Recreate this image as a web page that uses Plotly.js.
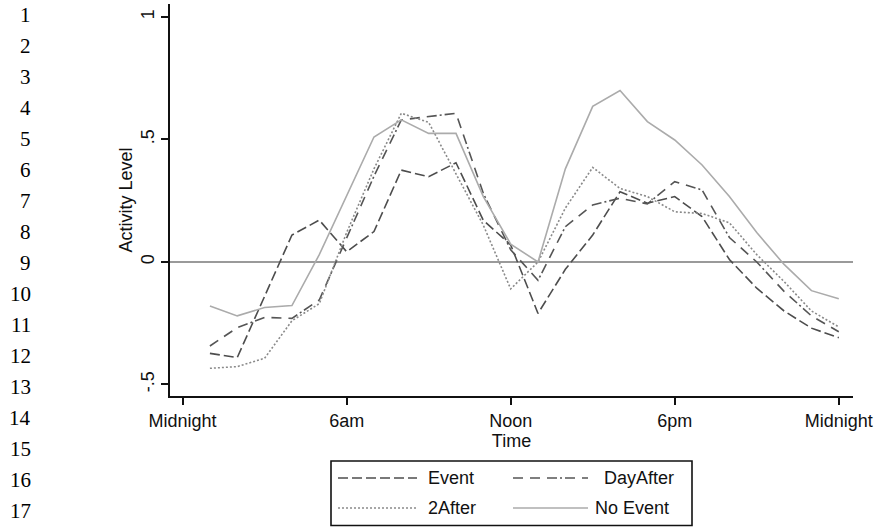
<!DOCTYPE html>
<html>
<head>
<meta charset="utf-8">
<script src="https://cdn.plot.ly/plotly-3.0.1.min.js"></script>
<style>
  html, body { margin: 0; padding: 0; background: #fff; }
  #chart { width: 881px; height: 527px; }
</style>
</head>
<body>
<div id="chart"></div>
<script>
// ---- data ----
var hours = [1, 2, 3, 4, 5, 6, 7, 8, 9, 10, 11, 12, 13, 14, 15, 16, 17, 18, 19, 20, 21, 22, 23, 24];
var eventVals    = [-0.373, -0.39, -0.14, 0.11, 0.171, 0.042, 0.124, 0.375, 0.348, 0.405, 0.17, 0.07, -0.21, -0.03, 0.11, 0.287, 0.24, 0.267, 0.185, 0.01, -0.107, -0.2, -0.27, -0.309];
var dayAfterVals = [-0.343, -0.268, -0.226, -0.23, -0.155, 0.1, 0.35, 0.58, 0.593, 0.607, 0.28, 0.05, -0.075, 0.144, 0.233, 0.26, 0.237, 0.328, 0.294, 0.1, 0.0, -0.12, -0.22, -0.285];
var twoAfterVals = [-0.434, -0.427, -0.393, -0.24, -0.17, 0.12, 0.38, 0.607, 0.57, 0.36, 0.15, -0.11, 0.0, 0.22, 0.386, 0.30, 0.267, 0.205, 0.198, 0.16, 0.03, -0.08, -0.2, -0.265];
var noEventVals  = [-0.18, -0.22, -0.186, -0.178, 0.03, 0.27, 0.51, 0.58, 0.525, 0.525, 0.267, 0.073, 0.0, 0.38, 0.635, 0.70, 0.573, 0.498, 0.396, 0.267, 0.12, -0.01, -0.117, -0.15];
var seriesNames  = ["Event", "DayAfter", "2After", "No Event"];
var xTickVals = [0, 6, 12, 18, 24];
var xTickText = ["Midnight", "6am", "Noon", "6pm", "Midnight"];
var yTickVals = [-0.5, 0, 0.5, 1];
var yTickText = ["-.5", "0", ".5", "1"];
var lineNumbers = [1, 2, 3, 4, 5, 6, 7, 8, 9, 10, 11, 12, 13, 14, 15, 16, 17];

// ---- styles ----
var FONT = "Liberation Sans, Arial, Helvetica, sans-serif";
var styles = [
  {color: "#4d4d4d", dash: "10px,4px", width: 1.6},
  {color: "#555555", dash: "10px,7px,10px,7px,10px,3px,2px,3px", width: 1.6},
  {color: "#8a8a8a", dash: "2px,2px", width: 1.6},
  {color: "#ababab", dash: "solid", width: 1.6}
];
var allVals = [eventVals, dayAfterVals, twoAfterVals, noEventVals];

var W = 881, H = 527;
var M = {l: 170, r: 28, t: 4, b: 131};
var pw = W - M.l - M.r, ph = H - M.t - M.b;
function px2x(px) { return (px - M.l) / pw; }
function py2y(py) { return (H - M.b - py) / ph; }

var traces = allVals.map(function (vals, i) {
  return {
    x: hours, y: vals, type: "scatter", mode: "lines",
    name: seriesNames[i],
    line: {color: styles[i].color, dash: styles[i].dash, width: styles[i].width},
    hoverinfo: "skip", showlegend: false
  };
});

// manual legend (2 x 2 box below the plot)
var shapes = [];
var annotations = [];
shapes.push({type: "rect", xref: "paper", yref: "paper",
  x0: px2x(331), x1: px2x(692), y0: py2y(525.5), y1: py2y(461),
  line: {color: "#111", width: 1.6}, fillcolor: "rgba(0,0,0,0)"});
var legPos = [
  {lx0: 338, lx1: 417, tx: 426, ty: 478},
  {lx0: 513, lx1: 588, tx: 602, ty: 478},
  {lx0: 338, lx1: 417, tx: 426, ty: 508},
  {lx0: 513, lx1: 588, tx: 593, ty: 508}
];
var legOrder = [0, 1, 2, 3];
legOrder.forEach(function (si, k) {
  var p = legPos[k];
  shapes.push({type: "line", xref: "paper", yref: "paper",
    x0: px2x(p.lx0), x1: px2x(p.lx1), y0: py2y(p.ty), y1: py2y(p.ty),
    line: {color: styles[si].color, dash: styles[si].dash, width: styles[si].width}});
  annotations.push({xref: "paper", yref: "paper", x: px2x(p.tx), y: py2y(p.ty),
    xanchor: "left", yanchor: "middle", showarrow: false, text: seriesNames[si],
    font: {family: FONT, size: 18, color: "#111"}});
});

// line numbers in the left margin
lineNumbers.forEach(function (n, i) {
  var cy = 15 + 31.0 * i;
  annotations.push({xref: "paper", yref: "paper", x: px2x(33), y: py2y(cy),
    xanchor: "right", yanchor: "middle", showarrow: false, text: String(n),
    font: {family: "Liberation Serif, Times New Roman, serif", size: 21, color: "#000"}});
});

var layout = {
  width: W, height: H,
  margin: M,
  paper_bgcolor: "#fff", plot_bgcolor: "#fff",
  font: {family: FONT, size: 18, color: "#111"},
  showlegend: false,
  xaxis: {
    range: [-0.46, 24.52], tickvals: xTickVals, ticktext: xTickText,
    showgrid: false, zeroline: false, showline: true, linecolor: "#111", linewidth: 2,
    ticks: "outside", ticklen: 7, tickwidth: 2, tickcolor: "#111",
    tickfont: {family: FONT, size: 18, color: "#111"},
    title: {text: "Time", font: {family: FONT, size: 18, color: "#111"}, standoff: 2},
    automargin: false, fixedrange: true
  },
  yaxis: {
    range: [-0.547, 1.053], tickvals: yTickVals, ticktext: yTickText, tickangle: -90,
    showgrid: false, zeroline: true, zerolinecolor: "#9a9a9a", zerolinewidth: 2,
    showline: true, linecolor: "#111", linewidth: 2,
    ticks: "outside", ticklen: 7, tickwidth: 2, tickcolor: "#111",
    tickfont: {family: FONT, size: 18, color: "#111"},
    title: {text: "Activity Level", font: {family: FONT, size: 18, color: "#111"}, standoff: 0},
    automargin: false, fixedrange: true
  },
  shapes: shapes,
  annotations: annotations
};

Plotly.newPlot("chart", traces, layout, {staticPlot: true, displayModeBar: false});
</script>
</body>
</html>
